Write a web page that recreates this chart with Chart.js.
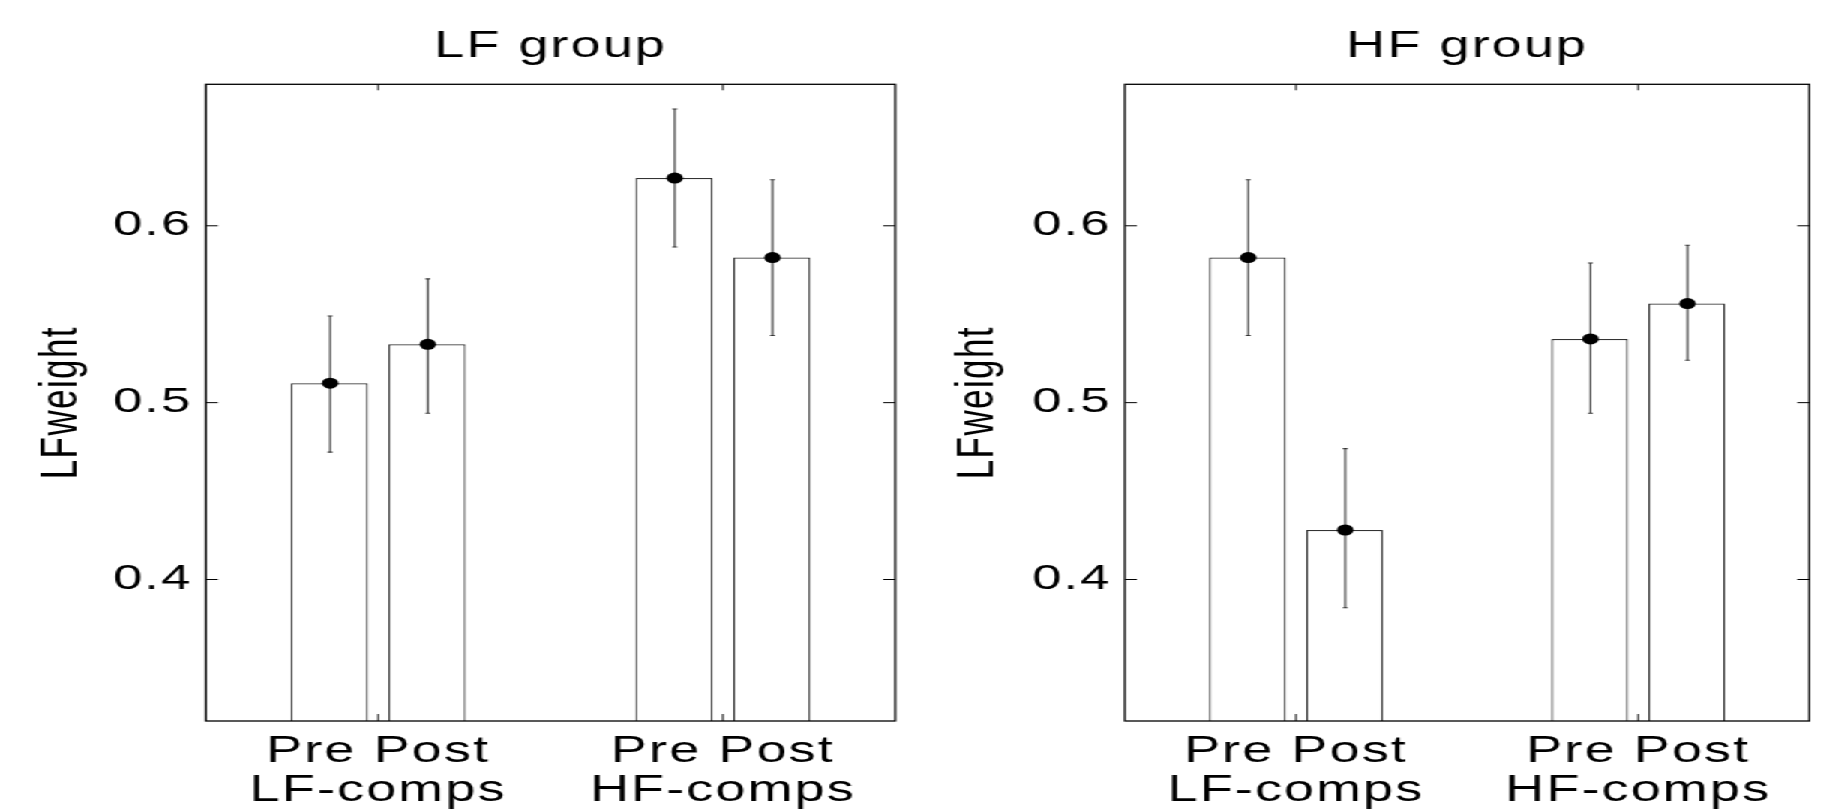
<!DOCTYPE html>
<html>
<head>
<meta charset="utf-8">
<script src="https://cdn.jsdelivr.net/npm/chart.js@4.4.0/dist/chart.umd.min.js"></script>
<style>
  html, body { margin: 0; padding: 0; background: #fff; overflow: hidden; }
  /* the original figure is stretched sideways, so draw narrow and stretch */
  #wrap { position: absolute; left: 0; top: 0; width: 1232px; height: 809px; transform: scaleX(1.5); transform-origin: 0 0; }
  #wrap canvas { position: absolute; top: 0; }
</style>
</head>
<body>
<div id="wrap">
  <canvas id="lf-group" width="615" height="809" style="left:0px"></canvas>
  <canvas id="hf-group" width="617" height="809" style="left:615px"></canvas>
</div>
<script>
// categories and ticks
const groups = [['Pre Post', 'LF-comps'], ['Pre Post', 'HF-comps']];
const yTicks = [0.4, 0.5, 0.6];
const yMin = 0.32;
const yMax = 0.68;

// LF group: means and error bar ends (LF-comps, HF-comps)
const lfPre = [0.511, 0.627];
const lfPost = [0.533, 0.582];
const lfPreHigh = [0.549, 0.666];
const lfPreLow = [0.472, 0.588];
const lfPostHigh = [0.570, 0.626];
const lfPostLow = [0.494, 0.538];

// HF group
const hfPre = [0.582, 0.536];
const hfPost = [0.428, 0.556];
const hfPreHigh = [0.626, 0.579];
const hfPreLow = [0.538, 0.494];
const hfPostHigh = [0.474, 0.589];
const hfPostLow = [0.384, 0.524];

const FONT = 'Liberation Sans, Arial, Helvetica, sans-serif';

// wider letters like the original export
const spacing = {
  id: 'spacing',
  beforeLayout(chart) { chart.ctx.letterSpacing = '1.4px'; },
  beforeDraw(chart) { chart.ctx.letterSpacing = '1.4px'; }
};

// error bars, dots, axis box and inward ticks (matlab look)
const matlabBits = {
  id: 'matlabBits',
  afterDatasetsDraw(chart) {
    const ctx = chart.ctx;
    const y = chart.scales.y;
    const x = chart.scales.x;
    const area = chart.chartArea;

    ctx.save();
    chart.data.datasets.forEach((ds, i) => {
      const meta = chart.getDatasetMeta(i);
      meta.data.forEach((bar, j) => {
        const cx = bar.x + 0.5;
        const hi = y.getPixelForValue(ds.errHigh[j]);
        const lo = y.getPixelForValue(ds.errLow[j]);
        ctx.strokeStyle = '#333';
        ctx.lineWidth = 1.1;
        ctx.beginPath();
        ctx.moveTo(cx, hi);
        ctx.lineTo(cx, lo);
        ctx.moveTo(cx - 1.6, hi);
        ctx.lineTo(cx + 1.6, hi);
        ctx.moveTo(cx - 1.6, lo);
        ctx.lineTo(cx + 1.6, lo);
        ctx.stroke();

        ctx.fillStyle = '#000';
        ctx.beginPath();
        ctx.arc(cx, y.getPixelForValue(ds.data[j]), 5.5, 0, Math.PI * 2);
        ctx.fill();
      });
    });

    ctx.strokeStyle = '#000';
    ctx.lineWidth = 1.3;
    ctx.strokeRect(area.left, area.top, area.right - area.left, area.bottom - area.top);

    ctx.lineWidth = 1;
    ctx.beginPath();
    yTicks.forEach(t => {
      const py = y.getPixelForValue(t);
      ctx.moveTo(area.left, py);
      ctx.lineTo(area.left + 8, py);
      ctx.moveTo(area.right, py);
      ctx.lineTo(area.right - 8, py);
    });
    groups.forEach((g, i) => {
      const px = x.getPixelForValue(i);
      ctx.moveTo(px, area.top);
      ctx.lineTo(px, area.top + 6);
      ctx.moveTo(px, area.bottom);
      ctx.lineTo(px, area.bottom - 7);
    });
    ctx.stroke();
    ctx.restore();
  }
};

function createPanel(id, title, pre, post, preHigh, preLow, postHigh, postLow, yWidth, rightPad, yTitlePad) {
  const ctx = document.getElementById(id).getContext('2d');

  new Chart(ctx, {
    type: 'bar',
    data: {
      labels: groups,
      datasets: [
        {
          label: 'Pre',
          data: pre,
          errHigh: preHigh,
          errLow: preLow,
          backgroundColor: '#fff',
          borderColor: '#333',
          borderWidth: 1.2,
          categoryPercentage: 0.567,
          barPercentage: 0.79
        },
        {
          label: 'Post',
          data: post,
          errHigh: postHigh,
          errLow: postLow,
          backgroundColor: '#fff',
          borderColor: '#333',
          borderWidth: 1.2,
          categoryPercentage: 0.567,
          barPercentage: 0.79
        }
      ]
    },
    options: {
      responsive: false,
      animation: false,
      devicePixelRatio: 1,
      layout: {
        padding: { left: 0, right: rightPad, top: 0, bottom: 0 }
      },
      plugins: {
        legend: { display: false },
        tooltip: { enabled: false },
        title: {
          display: true,
          text: title,
          fullSize: false,
          color: '#000',
          font: { family: FONT, size: 36, weight: 'normal', lineHeight: 1.2 },
          padding: { top: 25, bottom: 16.1 }
        }
      },
      scales: {
        x: {
          grid: { display: false },
          border: { display: false },
          ticks: {
            color: '#000',
            font: { family: FONT, size: 36, lineHeight: 1.1 },
            padding: 3,
            maxRotation: 0,
            autoSkip: false
          },
          afterFit(scale) { scale.height = 88; }
        },
        y: {
          min: yMin,
          max: yMax,
          grid: { display: false, drawTicks: false },
          border: { display: false },
          afterBuildTicks(scale) {
            scale.ticks = yTicks.map(v => ({ value: v }));
          },
          ticks: {
            color: '#000',
            font: { family: FONT, size: 35 },
            padding: 9,
            callback: value => value.toFixed(1)
          },
          title: {
            display: true,
            text: 'LFweight',
            color: '#000',
            font: { family: FONT, size: 35, lineHeight: 1.2 },
            padding: { top: yTitlePad, bottom: 0 }
          },
          afterFit(scale) { scale.width = yWidth; }
        }
      }
    },
    plugins: [spacing, matlabBits]
  });
}

document.addEventListener('DOMContentLoaded', function () {
  createPanel('lf-group', 'LF group', lfPre, lfPost, lfPreHigh, lfPreLow, lfPostHigh, lfPostLow, 137.3, 18.1, 20);
  createPanel('hf-group', 'HF group', hfPre, hfPost, hfPreHigh, hfPreLow, hfPostHigh, hfPostLow, 135, 25.7, 16.5);
});
</script>
</body>
</html>
